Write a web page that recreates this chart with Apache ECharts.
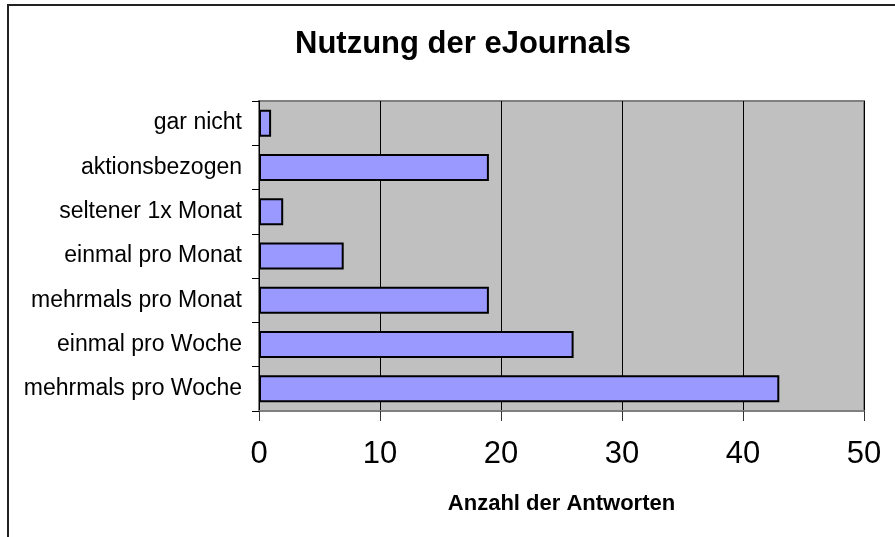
<!DOCTYPE html>
<html>
<head>
<meta charset="utf-8">
<script src="https://cdn.jsdelivr.net/npm/echarts@6/dist/echarts.min.js"></script>
<style>
  html, body { margin: 0; padding: 0; background: #fff; }
  #chart { width: 895px; height: 537px; }
</style>
</head>
<body>
<div id="chart"></div>
<script>
// Kategorien von unten nach oben
var categories = ['mehrmals pro Woche', 'einmal pro Woche', 'mehrmals pro Monat',
    'einmal pro Monat', 'seltener 1x Monat', 'aktionsbezogen', 'gar nicht'];
var antworten = [43, 26, 19, 7, 2, 19, 1];
var xTicks = [0, 10, 20, 30, 40, 50];

var chart = echarts.init(document.getElementById('chart'));

var option = {
    animation: false,
    title: {
        text: 'Nutzung der eJournals',
        left: 290,
        top: 24,
        textStyle: { fontFamily: 'Liberation Sans', fontSize: 31, fontWeight: 'bold', color: '#000' }
    },
    // Rahmen: oben und links
    graphic: [{
        type: 'polyline',
        shape: { points: [[8, 540], [8, 5], [895, 5]] },
        style: { fill: 'none', stroke: '#222', lineWidth: 2 },
        silent: true
    }],
    grid: {
        left: 259, right: 31, top: 101, bottom: 126,
        show: true,
        backgroundColor: '#c0c0c0',
        borderColor: '#808080',
        borderWidth: 2
    },
    xAxis: {
        type: 'value',
        min: xTicks[0],
        max: xTicks[xTicks.length - 1],
        interval: 10,
        name: 'Anzahl der Antworten',
        nameLocation: 'middle',
        nameGap: 82,
        nameTextStyle: { fontFamily: 'Liberation Sans', fontSize: 22, fontWeight: 'bold', color: '#000' },
        axisLine: { show: true, lineStyle: { color: '#808080', width: 2 } },
        axisTick: { show: true, length: 10, lineStyle: { color: '#333' } },
        axisLabel: { fontFamily: 'Liberation Sans', fontSize: 31, color: '#000', margin: 28 },
        splitLine: { show: true, lineStyle: { color: '#000', width: 1 } }
    },
    yAxis: {
        type: 'category',
        data: categories,
        axisLine: { show: true, lineStyle: { color: '#000', width: 1 } },
        axisTick: { show: true, length: 7, lineStyle: { color: '#000' } },
        axisLabel: { fontFamily: 'Liberation Sans', fontSize: 23, color: '#000', margin: 17 },
        splitLine: { show: false }
    },
    series: [{
        type: 'bar',
        data: antworten,
        barWidth: 27,
        itemStyle: { color: '#9999ff', borderColor: '#000', borderWidth: 2 }
    }]
};

chart.setOption(option);
</script>
</body>
</html>
